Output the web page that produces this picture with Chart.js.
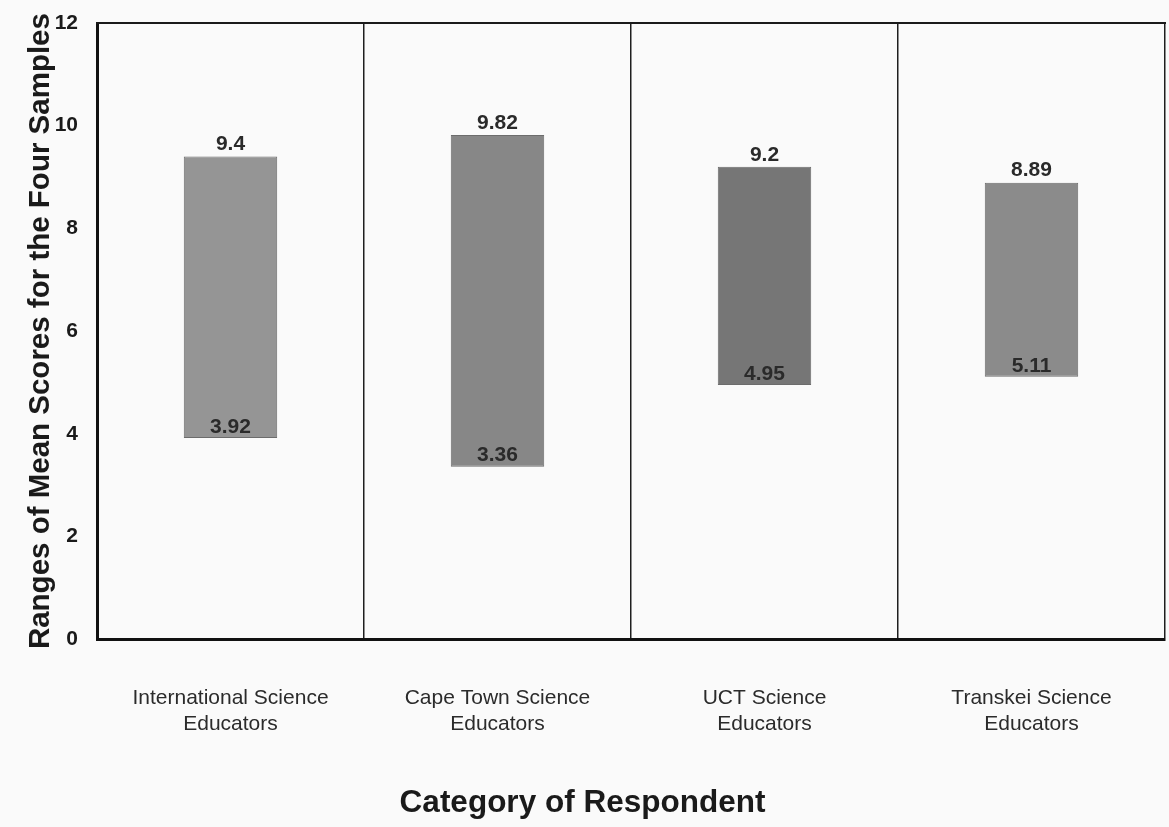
<!DOCTYPE html>
<html>
<head>
<meta charset="utf-8">
<script src="https://cdn.jsdelivr.net/npm/chart.js@4"></script>
<style>
  html, body { margin: 0; padding: 0; background: #fafafa; }
  #wrap { width: 1169px; height: 827px; }
</style>
</head>
<body>
<div id="wrap"><canvas id="c" width="1169" height="827"></canvas></div>
<script>
// Respondent groups and the lowest / highest mean score in each
const categories = [
  ['International Science', 'Educators'],
  ['Cape Town Science', 'Educators'],
  ['UCT Science', 'Educators'],
  ['Transkei Science', 'Educators']
];
const lowValues  = [3.92, 3.36, 4.95, 5.11];
const highValues = [9.4, 9.82, 9.2, 8.89];
const yTicks = [0, 2, 4, 6, 8, 10, 12];
const barColors = ['#959595', '#878787', '#767676', '#8b8b8b'];

const ranges = lowValues.map((lo, i) => [lo, highValues[i]]);
const FONT = '"Liberation Sans", Arial, sans-serif';

// Writes the low and high value of each range bar
const rangeLabels = {
  id: 'rangeLabels',
  afterDatasetsDraw(chart) {
    const ctx = chart.ctx;
    const meta = chart.getDatasetMeta(0);
    const y = chart.scales.y;
    ctx.save();
    ctx.font = 'bold 21px ' + FONT;
    ctx.fillStyle = '#2a2a2a';
    ctx.textAlign = 'center';
    ctx.textBaseline = 'middle';
    meta.data.forEach((bar, i) => {
      const [lo, hi] = chart.data.datasets[0].data[i];
      ctx.fillText(String(hi), bar.x, y.getPixelForValue(hi) - 12);
      ctx.fillText(String(lo), bar.x, y.getPixelForValue(lo) - 11);
    });
    ctx.restore();
  }
};

// Closes the plot frame along the top edge
const topFrame = {
  id: 'topFrame',
  afterDraw(chart) {
    const { ctx, chartArea: a } = chart;
    ctx.save();
    ctx.strokeStyle = '#1a1a1a';
    ctx.lineWidth = 2;
    ctx.beginPath();
    ctx.moveTo(a.left - 1, a.top);
    ctx.lineTo(a.right + 1, a.top);
    ctx.stroke();
    ctx.restore();
  }
};

new Chart(document.getElementById('c'), {
  type: 'bar',
  data: {
    labels: categories,
    datasets: [{
      data: ranges,
      backgroundColor: barColors,
      borderColor: '#6c6c6c',
      borderWidth: 1,
      borderSkipped: false,
      barPercentage: 0.35,
      categoryPercentage: 1
    }]
  },
  options: {
    responsive: false,
    animation: false,
    devicePixelRatio: 1,
    layout: { padding: { left: 0, top: 23, right: 4, bottom: 0 } },
    plugins: {
      legend: { display: false },
      tooltip: { enabled: false },
      title: {
        display: true,
        position: 'bottom',
        text: 'Category of Respondent',
        color: '#1a1a1a',
        padding: { top: 0, bottom: 5 },
        font: { family: FONT, size: 31.5, weight: 'bold', lineHeight: 1.2 }
      }
    },
    scales: {
      x: {
        offset: true,
        grid: { display: true, offset: true, color: '#1e1e1e', lineWidth: 1.5, drawTicks: false },
        border: { display: true, color: '#111', width: 3 },
        ticks: {
          color: '#2b2b2b',
          padding: 46,
          maxRotation: 0,
          autoSkip: false,
          font: { family: FONT, size: 21, lineHeight: 1.25 }
        },
        afterFit(scale) { scale.height = 145; }
      },
      y: {
        min: 0,
        max: 12,
        afterBuildTicks(scale) { scale.ticks = yTicks.map(v => ({ value: v })); },
        grid: { display: false, drawTicks: false },
        border: { display: true, color: '#111', width: 3 },
        ticks: {
          color: '#1a1a1a',
          padding: 19,
          font: { family: FONT, size: 21, weight: 'bold' }
        },
        title: {
          display: true,
          text: 'Ranges of Mean Scores for the Four Samples',
          color: '#1a1a1a',
          padding: { top: 23, bottom: 0 },
          font: { family: FONT, size: 29.5, weight: 'bold' }
        },
        afterFit(scale) {
          scale.width = 97;
          scale.paddingTop = 0;
          scale.paddingBottom = 0;
        }
      }
    }
  },
  plugins: [rangeLabels, topFrame]
});
</script>
</body>
</html>
